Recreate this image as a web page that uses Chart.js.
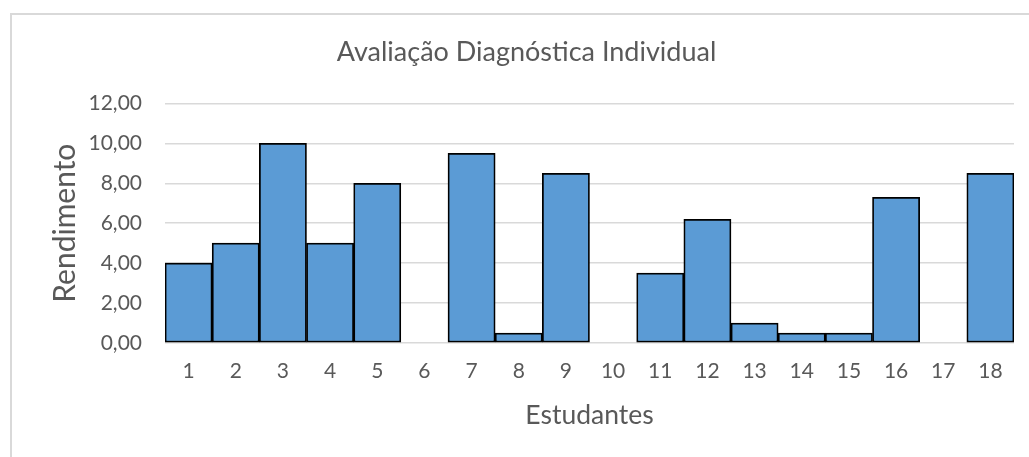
<!DOCTYPE html>
<html lang="pt">
<head>
<meta charset="utf-8">
<title>Avaliação Diagnóstica Individual</title>
<script src="https://cdn.jsdelivr.net/npm/chart.js@4/dist/chart.umd.min.js"></script>
<style>
    html, body {
        margin: 0;
        padding: 0;
        background: #ffffff;
    }
    .chart-wrap {
        position: relative;
        width: 1029px;
        height: 457px;
        overflow: hidden;
    }
    .chart-frame {
        position: absolute;
        left: 10px;
        top: 13px;
        width: 1100px;
        height: 500px;
        border-left: 2px solid #d9d9d9;
        border-top: 2px solid #d9d9d9;
    }
    #scoreChart {
        position: absolute;
        left: 0;
        top: 0;
    }
</style>
</head>
<body>
<div class="chart-wrap">
    <div class="chart-frame"></div>
    <canvas id="scoreChart" width="1029" height="457"></canvas>
</div>
<script>
const students = ["1", "2", "3", "4", "5", "6", "7", "8", "9", "10", "11", "12", "13", "14", "15", "16", "17", "18"];
const scores = [4, 5, 10, 5, 8, 0, 9.5, 0.5, 8.5, 0, 3.5, 6.2, 1, 0.5, 0.5, 7.3, 0, 8.5];
const yTickLabels = ["0,00", "2,00", "4,00", "6,00", "8,00", "10,00", "12,00"];

const textColor = "#595959";
const gridColor = "#d9d9d9";
const fontFamily = "Lato, 'Open Sans', sans-serif";

document.addEventListener("DOMContentLoaded", () => {
    const ctx = document.getElementById("scoreChart");

    new Chart(ctx, {
        type: "bar",
        data: {
            labels: students,
            datasets: [
                {
                    label: "Rendimento",
                    data: scores,
                    backgroundColor: "#5b9bd5",
                    borderColor: "#000000",
                    borderWidth: 1.75,
                    borderSkipped: false,
                    barPercentage: 1,
                    categoryPercentage: 1,
                },
            ],
        },
        options: {
            responsive: false,
            animation: false,
            // left padding keeps the title centred on the frame
            layout: { padding: { left: 39, right: 15, top: 0, bottom: 0 } },
            plugins: {
                legend: { display: false },
                tooltip: { enabled: false },
                title: {
                    display: true,
                    text: "Avaliação Diagnóstica Individual",
                    color: textColor,
                    font: { family: fontFamily, size: 27, weight: "normal" },
                    padding: { top: 36, bottom: 35 },
                },
            },
            scales: {
                x: {
                    grid: { display: false, drawTicks: false },
                    border: { display: false },
                    ticks: {
                        color: textColor,
                        font: { family: fontFamily, size: 21 },
                        padding: 16,
                        maxRotation: 0,
                        autoSkip: false,
                    },
                    title: {
                        display: true,
                        text: "Estudantes",
                        color: textColor,
                        font: { family: fontFamily, size: 26.5 },
                        padding: { top: 0, bottom: 26 },
                    },
                    afterFit: (scale) => {
                        scale.height = 114;
                    },
                },
                y: {
                    min: 0,
                    max: 12,
                    grid: { color: gridColor, lineWidth: 1.5, drawTicks: false },
                    border: { display: false },
                    ticks: {
                        stepSize: 2,
                        color: textColor,
                        font: { family: fontFamily, size: 21 },
                        padding: 23,
                        callback: (value, index) => yTickLabels[index],
                    },
                    title: {
                        display: true,
                        text: "Rendimento",
                        color: textColor,
                        font: { family: fontFamily, size: 30 },
                        padding: { top: 8, bottom: 0 },
                    },
                    afterFit: (scale) => {
                        scale.width = 126;
                    },
                },
            },
        },
    });
});
</script>
</body>
</html>
